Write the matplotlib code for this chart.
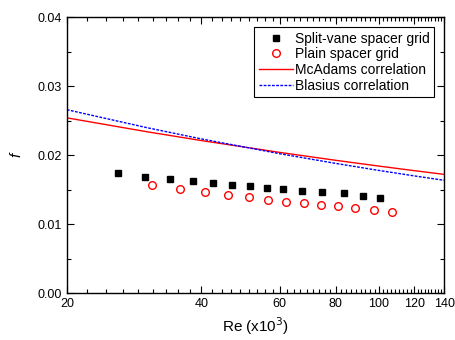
import numpy as np
import matplotlib
matplotlib.use("Agg")
import matplotlib.pyplot as plt
from matplotlib.ticker import FixedLocator, FixedFormatter, NullFormatter

plt.rcParams['font.family'] = ['Liberation Sans', 'DejaVu Sans']

# Data (Re in units of 10^3)
re_split = [26.1, 30.0, 34.0, 38.3, 42.6, 46.9, 51.4, 56.2, 61.1, 67.4, 74.5, 83.4, 92.2, 100.8]
f_split = [0.01739, 0.01686, 0.01652, 0.01623, 0.01594, 0.01565, 0.01551, 0.01526,
           0.01507, 0.01483, 0.01464, 0.01445, 0.01406, 0.01381]
re_plain = [31.1, 35.8, 40.8, 46.0, 51.1, 56.4, 61.9, 67.9, 74.3, 81.0, 88.6, 97.4, 107.2]
f_plain = [0.01561, 0.01512, 0.01464, 0.01425, 0.01391, 0.01352, 0.01323, 0.01304,
           0.01280, 0.01257, 0.01232, 0.01203, 0.01174]
re_line = [20, 30, 40, 60, 80, 100, 120, 140]
f_mcadams = [0.02539, 0.02341, 0.02210, 0.02038, 0.01924, 0.01840, 0.01774, 0.01720]
f_blasius = [0.02657, 0.02401, 0.02234, 0.02019, 0.01879, 0.01777, 0.01698, 0.01634]
xticks = [20, 40, 60, 80, 100, 120, 140]
xticklabels = ['20', '40', '60', '80', '100', '120', '140']
yticks = [0.00, 0.01, 0.02, 0.03, 0.04]

fig = plt.figure(figsize=(4.55, 3.4), dpi=100)
ax = fig.add_axes([0.147, 0.138, 0.829, 0.812])

ax.plot(re_split, f_split, 's', color='black', markersize=5, label='Split-vane spacer grid')
ax.plot(re_plain, f_plain, 'o', markerfacecolor='none', markeredgecolor='red',
        markersize=5.5, markeredgewidth=1.0, label='Plain spacer grid')
ax.plot(re_line, f_mcadams, '-', color='red', lw=1.0, label='McAdams correlation')
ax.plot(re_line, f_blasius, color='blue', lw=1.0, linestyle=(0, (2, 1)), label='Blasius correlation')

ax.set_xscale('log')
ax.set_xlim(20, 140)
ax.set_ylim(0, 0.04)
ax.xaxis.set_major_locator(FixedLocator(xticks))
ax.xaxis.set_major_formatter(FixedFormatter(xticklabels))
minors = []
for a in xticks[:-1]:
    minors += [a + k * 20 / 9 for k in range(1, 9)]
ax.xaxis.set_minor_locator(FixedLocator(minors))
ax.xaxis.set_minor_formatter(NullFormatter())
ax.set_yticks(yticks)
ax.set_yticklabels(['0.00', '0.01', '0.02', '0.03', '0.04'])
ax.set_yticks([0.005, 0.015, 0.025, 0.035], minor=True)

ax.tick_params(which='both', direction='in', top=True, right=True, labelsize=9, width=0.8)
ax.tick_params(which='major', length=5)
ax.tick_params(which='minor', length=3)
for s in ax.spines.values():
    s.set_linewidth(1.0)

ax.set_xlabel('Re (x10$^3$)', fontsize=11, labelpad=4)
ax.set_ylabel('f', fontsize=11, style='italic', labelpad=10)

leg = ax.legend(loc='upper right', fontsize=10, frameon=True, fancybox=False,
                edgecolor='black', framealpha=1, borderpad=0.35, labelspacing=0.12,
                handlelength=2.4, handletextpad=0.15, borderaxespad=0.7)
leg.get_frame().set_linewidth(0.8)

fig.savefig('out.png', dpi=100)
